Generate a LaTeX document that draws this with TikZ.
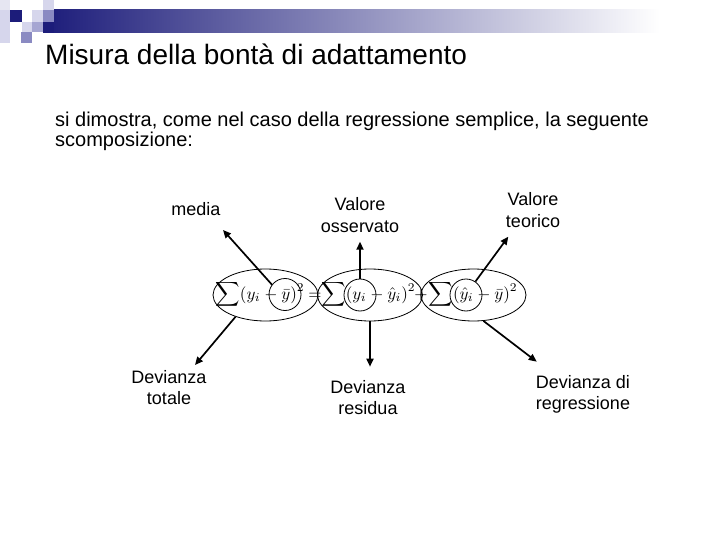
\documentclass[tikz,border=0pt]{standalone}
\usepackage{graphicx}
\usepackage{fontspec}
\setmainfont{Liberation Sans}
\usetikzlibrary{arrows.meta,shapes.geometric}
\definecolor{navy}{HTML}{1C1C7A}
\definecolor{paleA}{HTML}{D6D6EC}
\definecolor{paleB}{HTML}{E6E6F2}
\definecolor{medA}{HTML}{8A8AC2}
\definecolor{medB}{HTML}{A6A6D2}
\newcommand{\twolines}[2]{\vtop{\halign{\hfil##\hfil\cr #1\cr #2\cr}}}
\newcommand{\twoleft}[2]{\vtop{\halign{##\hfil\cr #1\cr #2\cr}}}
\newcommand{\bigmath}[1]{\scalebox{1.7}{$\displaystyle #1$}}
\begin{document}
\begin{tikzpicture}[x=1pt,y=-1pt,
  lbl/.style={font=\fontsize{18}{21.5}\selectfont, anchor=base, inner sep=0pt},
  term/.style={font=\fontsize{10}{12}\selectfont, anchor=base, inner sep=0pt},
  ell/.style={ellipse, draw, line width=0.8pt, minimum width=105pt, minimum height=52pt, inner sep=0pt},
  circ/.style={circle, draw, line width=0.8pt, minimum size=32pt, inner sep=0pt},
  arr/.style={line width=1.7pt, -{Triangle[length=8pt,width=7pt]}}]
\useasboundingbox (0,0) rectangle (720,540);
\fill[white] (0,0) rectangle (720,540);
% header decoration
\shade[left color=navy, right color=white] (43,10) rectangle (660,33);
\fill[paleB] (0,0) rectangle (10,10);
\fill[paleA] (0,10) rectangle (10,43);
\fill[navy] (10,10) rectangle (22,22);
\fill[paleA] (22,22) rectangle (32,32);
\fill[medA] (21,32) rectangle (32,43);
\fill[paleA] (32,10) rectangle (43,22);
\fill[medB] (32,22) rectangle (43,32);
\fill[paleA] (43,0) rectangle (54,10);
\fill[medA] (43,10) rectangle (54,22);
\fill[navy] (43,22) rectangle (54,33);
% title and text
\node[anchor=base west, inner sep=0pt, font=\fontsize{28}{34}\selectfont] (title) at (45,64.5) {Misura della bontà di adattamento};
\node[anchor=base west, inner sep=0pt, font=\fontsize{20}{19.5}\selectfont] (body) at (55,126.7)
  {\twoleft{si dimostra, come nel caso della regressione semplice, la seguente}{scomposizione:}};
% ellipses and circles
\node[ell] (e1) at (265.5,295) {};
\node[ell] (e2) at (370,295) {};
\node[ell] (e3) at (473.5,295) {};
\node[circ] (c1) at (285,294.5) {};
\node[circ] (c2) at (360,295) {};
\node[circ] (c3) at (466,295) {};
% formula
\node[term] (t1) at (260,299) {\bigmath{\sum(y_i-\bar y)^2}};
\node[term] (eq) at (315,299) {\bigmath{=}};
\node[term] (t2) at (368.4,299) {\bigmath{\sum(y_i-\hat y_i)^2}};
\node[term] (pl) at (421,299) {\bigmath{+}};
\node[term] (t3) at (473,299) {\bigmath{\sum(\hat y_i-\bar y)^2}};
% labels
\node[lbl] (media) at (196,215) {media};
\node[lbl] (oss) at (360,210.7) {\twolines{Valore}{osservato}};
\node[lbl] (teo) at (533,206) {\twolines{Valore}{teorico}};
\node[lbl] (tot) at (169,383) {\twolines{Devianza}{totale}};
\node[lbl] (res) at (368,393) {\twolines{Devianza}{residua}};
\node[lbl] (reg) at (583,388) {\twolines{Devianza di}{regressione}};
% arrow tips
\coordinate (pmedia) at (223,230);
\coordinate (poss) at (360,241.7);
\coordinate (pteo) at (508.3,236.7);
\coordinate (ptot) at (195,365);
\coordinate (pres) at (370,366.7);
\coordinate (preg) at (536.7,361.7);
\draw[arr] (c1.143) -- (pmedia);
\draw[arr] (c2.north) -- (poss);
\draw[arr] (c3.55) -- (pteo);
\draw[arr] (e1.216) -- (ptot);
\draw[arr] (e2.south) -- (pres);
\draw[arr] (e3.291) -- (preg);
\end{tikzpicture}
\end{document}
